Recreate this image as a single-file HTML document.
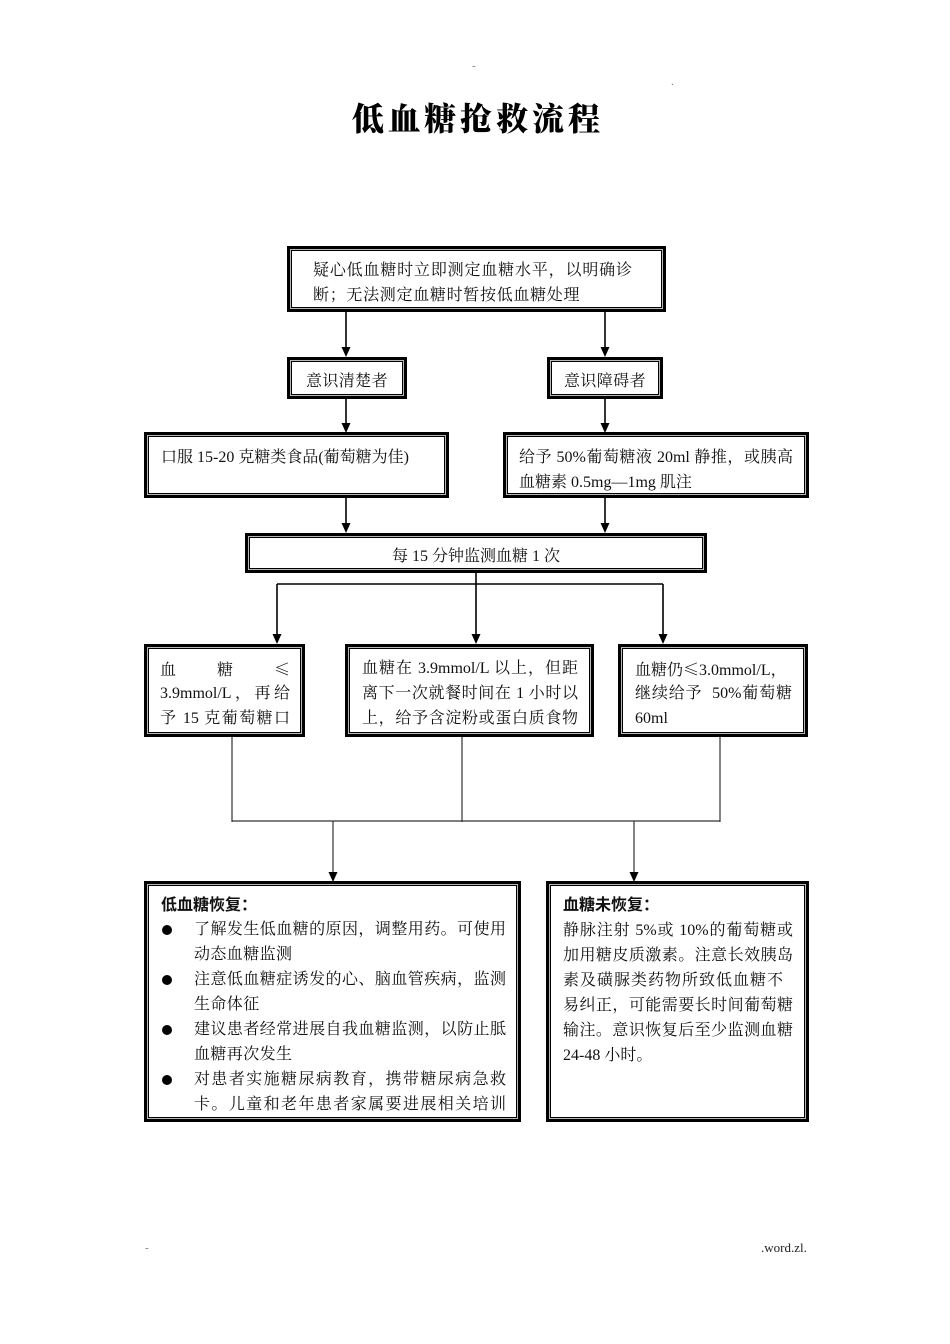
<!DOCTYPE html>
<html><head><meta charset="utf-8">
<style>
html,body{margin:0;padding:0;background:#fff;}
body{width:950px;height:1344px;position:relative;overflow:hidden;}
.bx{position:absolute;box-sizing:border-box;border:3px solid #000;box-shadow:inset 0 0 0 1px #b8b8b8, inset 0 0 0 2px #000;background:#fff;}
.t{position:absolute;font-family:"Liberation Serif","Noto Serif CJK SC",serif;font-size:16px;line-height:25px;color:#111;white-space:nowrap;letter-spacing:0.4px;}
.j{white-space:normal;text-align:justify;text-align-last:justify;letter-spacing:0;}
.c{text-align:center;}
.h{font-family:"Liberation Sans","Noto Sans CJK SC",sans-serif;font-weight:bold;letter-spacing:0;}
.cjk{font-family:"Noto Serif CJK SC","Noto Sans CJK SC",serif;}
.dot{position:absolute;width:10px;height:10px;border-radius:50%;background:#000;}
svg{position:absolute;left:0;top:0;}
</style></head>
<body>
<div class="t" style="left:472px;top:54px;font-size:11px;color:#777">-</div>
<div class="t" style="left:671px;top:70px;font-size:11px;color:#777">.</div>
<div style="position:absolute;left:352px;top:98px;width:248px;font-family:'Noto Serif CJK SC','Noto Sans CJK SC',serif;font-weight:900;font-size:32px;line-height:38px;text-align:justify;text-align-last:justify;color:#000">低血糖抢救流程</div>

<svg width="950" height="1344" viewBox="0 0 950 1344">
<g stroke="#000" stroke-width="1.6" fill="none">
<line x1="346" y1="312" x2="346" y2="348"/>
<line x1="605" y1="312" x2="605" y2="348"/>
<line x1="346" y1="398" x2="346" y2="424"/>
<line x1="605" y1="398" x2="605" y2="424"/>
<line x1="346" y1="497" x2="346" y2="524"/>
<line x1="605" y1="497" x2="605" y2="524"/>
<line x1="476" y1="572" x2="476" y2="635"/>
<line x1="277" y1="584" x2="663" y2="584"/>
<line x1="277" y1="584" x2="277" y2="635"/>
<line x1="663" y1="584" x2="663" y2="635"/>
</g>
<g stroke="#333" stroke-width="1.2" fill="none">
<line x1="232" y1="736" x2="232" y2="822"/>
<line x1="462" y1="736" x2="462" y2="822"/>
<line x1="720" y1="736" x2="720" y2="822"/>
<line x1="232" y1="821" x2="720" y2="821"/>
<line x1="333" y1="821" x2="333" y2="873"/>
<line x1="634" y1="821" x2="634" y2="873"/>
</g>
<g fill="#000">
<polygon points="346,357 341.5,347 350.5,347"/>
<polygon points="605,357 600.5,347 609.5,347"/>
<polygon points="346,433 341.5,423 350.5,423"/>
<polygon points="605,433 600.5,423 609.5,423"/>
<polygon points="346,533 341.5,523 350.5,523"/>
<polygon points="605,533 600.5,523 609.5,523"/>
<polygon points="476,644 471.5,634 480.5,634"/>
<polygon points="277,644 272.5,634 281.5,634"/>
<polygon points="663,644 658.5,634 667.5,634"/>
<polygon points="333,882 328.5,872 337.5,872"/>
<polygon points="634,882 629.5,872 638.5,872"/>
</g>
</svg>

<!-- Box 1 -->
<div class="bx" style="left:287px;top:246px;width:379px;height:66px"></div>
<div class="t j" style="left:313px;top:258px;width:319px">疑心低血糖时立即测定血糖水平，以明确诊</div>
<div class="t" style="left:313px;top:283px;letter-spacing:0.7px">断；无法测定血糖时暂按低血糖处理</div>

<!-- 意识 boxes -->
<div class="bx" style="left:287px;top:357px;width:120px;height:42px"></div>
<div class="t c" style="left:287px;top:369px;width:120px">意识清楚者</div>
<div class="bx" style="left:547px;top:357px;width:116px;height:42px"></div>
<div class="t c" style="left:547px;top:369px;width:116px">意识障碍者</div>

<!-- treatment boxes -->
<div class="bx" style="left:144px;top:432px;width:305px;height:66px"></div>
<div class="t" style="left:161px;top:445px;letter-spacing:0">口服 15-20 克糖类食品(葡萄糖为佳)</div>
<div class="bx" style="left:503px;top:432px;width:306px;height:66px"></div>
<div class="t j" style="left:519px;top:445px;width:274px">给予 50%葡萄糖液 20ml 静推，或胰高</div>
<div class="t" style="left:519px;top:470px;letter-spacing:0">血糖素 0.5mg—1mg 肌注</div>

<!-- monitor box -->
<div class="bx" style="left:245px;top:533px;width:462px;height:40px"></div>
<div class="t c" style="left:245px;top:544px;width:462px;letter-spacing:0">每 15 分钟监测血糖 1 次</div>

<!-- three boxes -->
<div class="bx" style="left:144px;top:644px;width:161px;height:93px"></div>
<div class="t j" style="left:160px;top:656px;width:130px">血 糖 <span class="cjk">≤</span></div>
<div class="t j" style="left:160px;top:681px;width:130px">3.9mmol/L，再给</div>
<div class="t j" style="left:160px;top:706px;width:130px">予 15 克葡萄糖口</div>

<div class="bx" style="left:345px;top:644px;width:249px;height:93px"></div>
<div class="t j" style="left:362px;top:656px;width:216px">血糖在 3.9mmol/L 以上，但距</div>
<div class="t j" style="left:362px;top:681px;width:216px">离下一次就餐时间在 1 小时以</div>
<div class="t j" style="left:362px;top:706px;width:216px">上，给予含淀粉或蛋白质食物</div>

<div class="bx" style="left:618px;top:644px;width:190px;height:93px"></div>
<div class="t" style="left:635px;top:656px;letter-spacing:0">血糖仍<span class="cjk">≤</span>3.0mmol/L，</div>
<div class="t j" style="left:635px;top:681px;width:157px">继续给予&nbsp; 50%葡萄糖</div>
<div class="t" style="left:635px;top:706px;letter-spacing:0">60ml</div>

<!-- bottom left -->
<div class="bx" style="left:144px;top:881px;width:377px;height:241px"></div>
<div class="t h" style="left:161px;top:893px">低血糖恢复：</div>
<div class="dot" style="left:162px;top:925px"></div>
<div class="t j" style="left:194px;top:917px;width:312px">了解发生低血糖的原因，调整用药。可使用</div>
<div class="t" style="left:194px;top:942px">动态血糖监测</div>
<div class="dot" style="left:162px;top:975px"></div>
<div class="t j" style="left:194px;top:967px;width:312px">注意低血糖症诱发的心、脑血管疾病，监测</div>
<div class="t" style="left:194px;top:992px">生命体征</div>
<div class="dot" style="left:162px;top:1025px"></div>
<div class="t j" style="left:194px;top:1017px;width:312px">建议患者经常进展自我血糖监测，以防止胝</div>
<div class="t" style="left:194px;top:1042px">血糖再次发生</div>
<div class="dot" style="left:162px;top:1075px"></div>
<div class="t j" style="left:194px;top:1067px;width:312px">对患者实施糖尿病教育，携带糖尿病急救</div>
<div class="t j" style="left:194px;top:1092px;width:312px">卡。儿童和老年患者家属要进展相关培训</div>

<!-- bottom right -->
<div class="bx" style="left:546px;top:881px;width:263px;height:241px"></div>
<div class="t h" style="left:563px;top:893px">血糖未恢复：</div>
<div class="t j" style="left:563px;top:918px;width:230px">静脉注射 5%或 10%的葡萄糖或</div>
<div class="t j" style="left:563px;top:943px;width:230px">加用糖皮质激素。注意长效胰岛</div>
<div class="t j" style="left:563px;top:968px;width:220px">素及磺脲类药物所致低血糖不</div>
<div class="t j" style="left:563px;top:993px;width:230px">易纠正，可能需要长时间葡萄糖</div>
<div class="t j" style="left:563px;top:1018px;width:230px">输注。意识恢复后至少监测血糖</div>
<div class="t" style="left:563px;top:1043px;letter-spacing:0">24-48 小时。</div>

<!-- footer -->
<div class="t" style="left:145px;top:1236px;font-size:11px;color:#777">-</div>
<div class="t" style="left:761px;top:1235px;font-size:13px;letter-spacing:0;color:#222">.word.zl.</div>
</body></html>
